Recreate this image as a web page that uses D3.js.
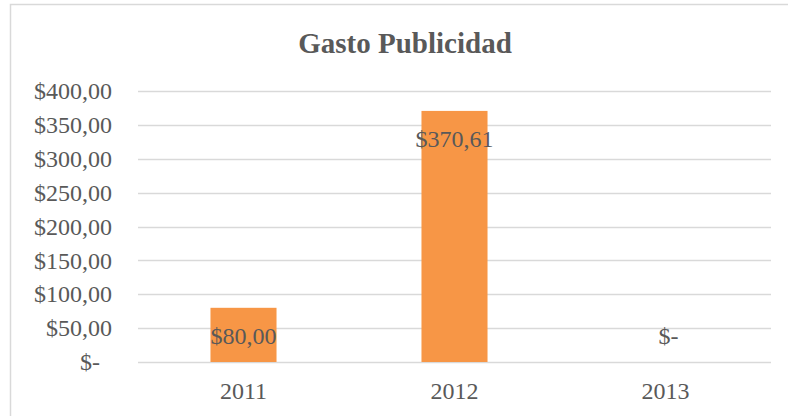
<!DOCTYPE html>
<html>
<head>
<meta charset="utf-8">
<script src="https://cdn.jsdelivr.net/npm/d3@7"></script>
<style>
  body { margin: 0; background: #fff; }
  text { font-family: "Liberation Serif", "Times New Roman", serif; fill: #595959; }
</style>
</head>
<body>
<div id="chart"></div>
<script>
/** Chart data. */
const TITLE = "Gasto Publicidad";
const YEARS = ["2011", "2012", "2013"];
const GASTO = [80.00, 370.61, 0];
const Y_TICKS = [0, 50, 100, 150, 200, 250, 300, 350, 400];

const WIDTH = 788;
const HEIGHT = 416;
const PLOT = {left: 138, right: 771, top: 91, bottom: 362};

const x = d3.scaleBand()
    .domain(YEARS)
    .range([PLOT.left, PLOT.right])
    .paddingInner(0.687)
    .paddingOuter(0.3435);
const y = d3.scaleLinear()
    .domain([0, 400])
    .range([PLOT.bottom, PLOT.top]);

// Excel accounting style: $350,00 and $- for zero
function money(v) {
    if (v === 0) return "$-";
    return "$" + d3.format(".2f")(v).replace(".", ",");
}

const svg = d3.select("#chart").append("svg")
    .attr("width", WIDTH)
    .attr("height", HEIGHT);

// chart area border (runs off the right and bottom edges)
svg.append("rect")
    .attr("x", 10.5)
    .attr("y", 4.5)
    .attr("width", 900)
    .attr("height", 600)
    .attr("fill", "none")
    .attr("stroke", "#d9d9d9")
    .attr("stroke-width", 1.5);

svg.append("text")
    .attr("x", 405)
    .attr("y", 53)
    .attr("text-anchor", "middle")
    .style("font-size", "29px")
    .style("font-weight", "bold")
    .text(TITLE);

// gridlines
svg.append("g")
    .selectAll("line")
    .data(Y_TICKS)
    .join("line")
    .attr("x1", PLOT.left)
    .attr("x2", PLOT.right)
    .attr("y1", d => Math.round(y(d)) + 0.5)
    .attr("y2", d => Math.round(y(d)) + 0.5)
    .attr("stroke", "#d9d9d9")
    .attr("stroke-width", 1.5);

// y axis labels
const yAxis = d3.axisLeft(y)
    .tickValues(Y_TICKS)
    .tickFormat(money)
    .tickSize(0)
    .tickPadding(26);

const yg = svg.append("g")
    .attr("transform", `translate(${PLOT.left},0)`)
    .call(yAxis);
yg.select(".domain").remove();
yg.selectAll("text")
    .style("font-size", "24px")
    .style("font-family", null)
    .attr("fill", "#595959")
    .attr("dx", d => d === 0 ? -12 : 0);

// x axis labels
const xAxis = d3.axisBottom(x)
    .tickSize(0)
    .tickPadding(20);
const xg = svg.append("g")
    .attr("transform", `translate(0,${PLOT.bottom})`)
    .call(xAxis);
xg.select(".domain").remove();
xg.selectAll("text")
    .style("font-size", "24px")
    .style("font-family", null)
    .attr("fill", "#595959");

// bars
svg.append("g")
    .selectAll("rect")
    .data(GASTO)
    .join("rect")
    .attr("x", (d, i) => x(YEARS[i]))
    .attr("y", d => y(d))
    .attr("width", x.bandwidth())
    .attr("height", d => y(0) - y(d))
    .attr("fill", "#f79646");

// data labels, inside end (a zero bar gets its label above the baseline)
svg.append("g")
    .selectAll("text")
    .data(GASTO)
    .join("text")
    .attr("x", (d, i) => x(YEARS[i]) + x.bandwidth() / 2 + (d === 0 ? 3 : 0))
    .attr("y", d => d === 0 ? y(0) - 26 : y(d) + 28)
    .attr("dy", "0.35em")
    .attr("text-anchor", "middle")
    .style("font-size", "24px")
    .text(money);
</script>
</body>
</html>
